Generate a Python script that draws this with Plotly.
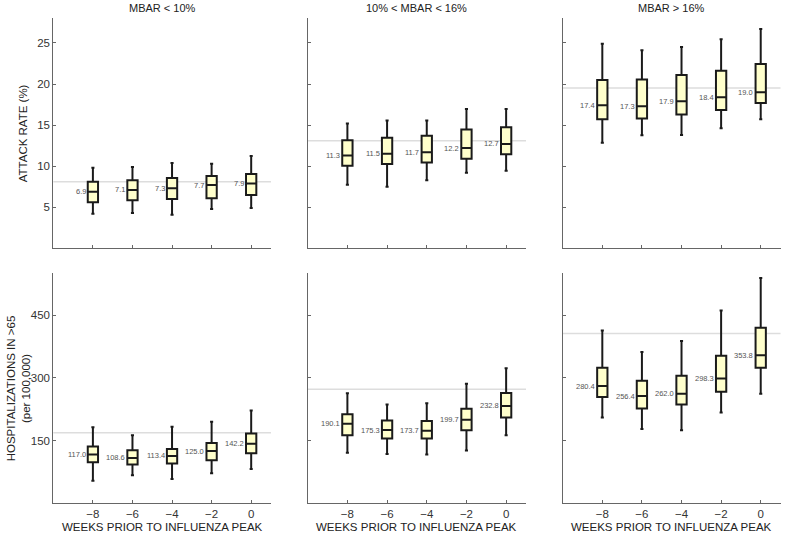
import plotly.graph_objects as go

weeks = [-8, -6, -4, -2, 0]
panel_titles = ["MBAR < 10%", "10% < MBAR < 16%", "MBAR > 16%"]

# Attack rate (%) box stats per MBAR group: [lower whisker, q1, median, q3, upper whisker]
ar_low = [[4.2, 4.3, 4.1, 4.8, 4.9],
          [5.6, 5.85, 6.0, 6.1, 6.5],
          [6.9, 7.1, 7.3, 7.7, 7.9],
          [8.1, 8.3, 8.55, 8.8, 9.05],
          [9.8, 9.9, 10.4, 10.3, 11.25]]
ar_mid = [[7.75, 7.5, 8.3, 9.2, 9.45],
          [10.05, 10.25, 10.45, 10.9, 11.45],
          [11.3, 11.5, 11.7, 12.2, 12.7],
          [13.15, 13.45, 13.7, 14.45, 14.75],
          [15.2, 15.55, 15.55, 16.95, 16.95]]
ar_high = [[12.85, 13.75, 13.8, 14.6, 15.7],
           [15.7, 15.8, 16.3, 16.85, 17.7],
           [17.4, 17.3, 17.9, 18.4, 19.0],
           [20.5, 20.55, 21.1, 21.6, 22.45],
           [24.9, 24.1, 24.5, 25.45, 26.7]]
# Hospitalizations in >65 (per 100,000)
ho_low = [[54, 67, 58, 72, 82],
          [98, 93, 95, 103, 120],
          [117.0, 108.6, 113.4, 125.0, 142.2],
          [136, 127, 130, 144, 167],
          [182, 163, 183, 195, 222]]
ho_mid = [[121, 118, 117, 126, 163],
          [163, 155, 155, 175, 205],
          [190.1, 175.3, 173.7, 199.7, 232.8],
          [213, 198, 197, 226, 264],
          [263, 236, 239, 286, 323]]
ho_high = [[205, 178, 175, 217, 262],
           [254, 227, 236, 267, 324],
           [280.4, 256.4, 262.0, 298.3, 353.8],
           [324, 293, 305, 353, 420],
           [413, 362, 388, 461, 539]]

ref_ar = [8.1, 13.1, 19.5]
ref_ho = [169, 273, 406]

ar_ticks = [5, 10, 15, 20, 25]
ho_ticks = [150, 300, 450]
week_labels = ["\u22128", "\u22126", "\u22124", "\u22122", "0"]

xdom = [(0.0675, 0.343), (0.3895, 0.6658), (0.7123, 0.988)]
ydom_top = (0.5341, 0.9657)
ydom_bot = (0.0557, 0.4872)

fig = go.Figure()
FONT = "Liberation Sans, Arial, sans-serif"

def add_panel(idx, stats, ref, row, fmt):
    n = idx + 1 + (3 if row == 1 else 0)
    xa = "x" if n == 1 else f"x{n}"
    ya = "y" if n == 1 else f"y{n}"
    lo, q1, med, q3, hi = stats
    fig.add_shape(type="line", xref=f"{xa} domain", yref=ya, x0=0, x1=1, y0=ref, y1=ref,
                  line=dict(color="#dddddd", width=1.5), layer="below")
    fig.add_trace(go.Box(
        x=weeks, q1=q1, median=med, q3=q3, lowerfence=lo, upperfence=hi,
        xaxis=xa, yaxis=ya, width=0.52, whiskerwidth=0.3,
        fillcolor="#FFFFCC", line=dict(color="#1a1a1a", width=2),
        showlegend=False, hoverinfo="skip", boxpoints=False))
    for w, m in zip(weeks, med):
        fig.add_annotation(x=w - 0.27, y=m, xref=xa, yref=ya, text=fmt.format(m),
                           showarrow=False, xanchor="right", yanchor="middle",
                           font=dict(size=7.5, color="#555", family=FONT))
    ax = dict(domain=list(xdom[idx]), range=[-10, 1], tickvals=weeks,
              ticks="inside", ticklen=3, tickcolor="#666", showline=True,
              linecolor="#666", linewidth=1, showgrid=False, zeroline=False,
              anchor=ya, tickfont=dict(size=11.5, color="#333", family=FONT))
    if row == 1:
        ax["ticktext"] = week_labels
    else:
        ax["showticklabels"] = False
    yr = [0, 28] if row == 0 else [0, 550]
    tv = ar_ticks if row == 0 else ho_ticks
    ay = dict(domain=list(ydom_top if row == 0 else ydom_bot), range=yr,
              tickvals=tv, ticks="inside", ticklen=3, tickcolor="#666",
              showline=True, linecolor="#666", linewidth=1, showgrid=False,
              zeroline=False, anchor=xa,
              tickfont=dict(size=11.5, color="#333", family=FONT),
              showticklabels=(idx == 0))
    fig.layout["xaxis" if n == 1 else f"xaxis{n}"] = ax
    fig.layout["yaxis" if n == 1 else f"yaxis{n}"] = ay
    if row == 1:
        fig.add_annotation(x=(xdom[idx][0] + xdom[idx][1]) / 2, y=6 / 533, xref="paper",
                           yref="paper", text="WEEKS PRIOR TO INFLUENZA PEAK",
                           showarrow=False, xanchor="center", yanchor="middle",
                           font=dict(size=11.5, color="#222", family=FONT))

for i, st in enumerate([ar_low, ar_mid, ar_high]):
    add_panel(i, st, ref_ar[i], 0, "{:.1f}")
for i, st in enumerate([ho_low, ho_mid, ho_high]):
    add_panel(i, st, ref_ho[i], 1, "{:.1f}")

for i, t in enumerate(panel_titles):
    fig.add_annotation(x=(xdom[i][0] + xdom[i][1]) / 2, y=1 - 8 / 533, xref="paper",
                       yref="paper", text=t, showarrow=False, xanchor="center",
                       yanchor="middle", font=dict(size=11, color="#222", family=FONT))

fig.add_annotation(x=23 / 790, y=(ydom_top[0] + ydom_top[1]) / 2, xref="paper",
                   yref="paper", text="ATTACK RATE (%)", textangle=-90,
                   showarrow=False, xanchor="center", yanchor="middle",
                   font=dict(size=11.5, color="#222", family=FONT))
fig.add_annotation(x=18 / 790, y=(ydom_bot[0] + ydom_bot[1]) / 2, xref="paper",
                   yref="paper", text="HOSPITALIZATIONS IN >65<br>(per 100,000)",
                   textangle=-90, showarrow=False, xanchor="center", yanchor="middle",
                   font=dict(size=11.5, color="#222", family=FONT))

fig.update_layout(width=790, height=533, margin=dict(l=0, r=0, t=0, b=0),
                  plot_bgcolor="white", paper_bgcolor="white", boxmode="overlay")
fig.write_html("out.html", config={"displayModeBar": False},
               post_script="document.body.style.margin='0';")
